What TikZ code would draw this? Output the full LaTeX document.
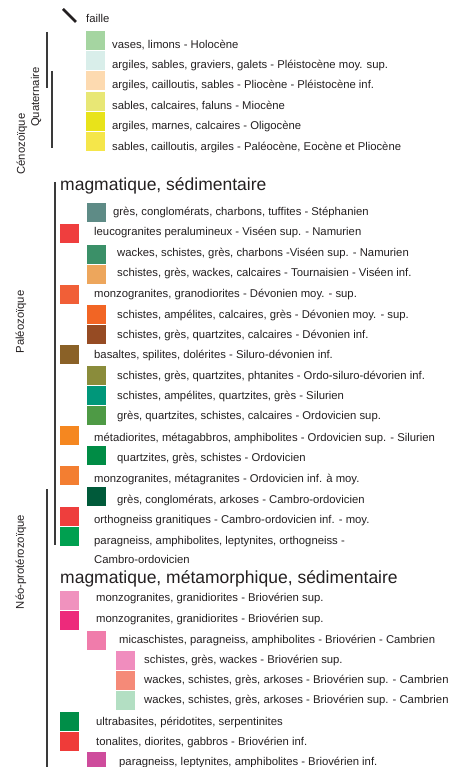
\documentclass[tikz,border=0pt]{standalone}
\usepackage{fontspec}
\setmainfont{Liberation Sans}
\definecolor{txt}{HTML}{231F20}
\definecolor{barc}{HTML}{3A3A3A}
\definecolor{cA}{HTML}{A5D5A1}
\definecolor{cB}{HTML}{D9EEEA}
\definecolor{cC}{HTML}{FDDAB0}
\definecolor{cD}{HTML}{E8E775}
\definecolor{cE}{HTML}{E8E31A}
\definecolor{cF}{HTML}{F5E64A}
\definecolor{pA}{HTML}{5E8B86}
\definecolor{pB}{HTML}{EF3E3E}
\definecolor{pC}{HTML}{3B9068}
\definecolor{pD}{HTML}{EDA65C}
\definecolor{pE}{HTML}{F15F37}
\definecolor{pF}{HTML}{F26524}
\definecolor{pG}{HTML}{964B23}
\definecolor{pH}{HTML}{8A6127}
\definecolor{pI}{HTML}{8A8C3B}
\definecolor{pJ}{HTML}{00977A}
\definecolor{pK}{HTML}{4E9A45}
\definecolor{pL}{HTML}{F58720}
\definecolor{pM}{HTML}{008C45}
\definecolor{pN}{HTML}{F37E31}
\definecolor{pO}{HTML}{005A3A}
\definecolor{pP}{HTML}{EE3E3D}
\definecolor{pQ}{HTML}{00A050}
\definecolor{nA}{HTML}{F092BE}
\definecolor{nB}{HTML}{ED2A7B}
\definecolor{nC}{HTML}{F07CAB}
\definecolor{nD}{HTML}{F08DBE}
\definecolor{nE}{HTML}{F58A78}
\definecolor{nF}{HTML}{B3DFC3}
\definecolor{nG}{HTML}{008E48}
\definecolor{nH}{HTML}{EF3B39}
\definecolor{nI}{HTML}{CE4C9C}
\begin{document}
\begin{tikzpicture}[x=1pt,y=-1pt,
  sw/.style={minimum width=19pt, minimum height=19pt, inner sep=0pt, outer sep=0pt, anchor=north west, draw=none},
  lb/.style={anchor=base west, inner sep=0pt, font=\fontsize{11.3}{13}\selectfont, text=txt},
  hd/.style={anchor=base west, inner sep=0pt, font=\fontsize{17.5}{20}\selectfont, text=txt},
  era/.style={rotate=90, inner sep=0pt, font=\fontsize{11.3}{13}\selectfont, text=txt},
  bar/.style={line width=1.3pt, draw=barc}]
\useasboundingbox (0,0) rectangle (449,767);

% faille
\coordinate (f1) at (63,9);
\coordinate (f2) at (76,22);
\draw[line width=2.6pt, draw=txt] (f1) -- (f2);
\node[lb] (faille) at (86,22.5) {faille};

% era bars
\draw[bar] (47,32) -- (47,88);
\draw[bar] (52,71) -- (52,148);
\draw[bar] (55,182) -- (55,545);
\draw[bar] (47,489) -- (47,767);

\node[era] (quat) at (36,97) {Quaternaire};
\node[era] (ceno) at (22,144) {Cénozoïque};
\node[era] (paleo) at (21,322) {Paléozoïque};
\node[era] (neo) at (21,562) {Néo-protérozoïque};

% Cenozoic
\node[sw, fill=cA] (s1) at (86,31) {};  \node[lb] (t1) at (112,48.5) {vases, limons - Holocène};
\node[sw, fill=cB] (s2) at (86,51) {};  \node[lb] (t2) at (112,69) {argiles, sables, graviers, galets - Pléistocène moy. sup.};
\node[sw, fill=cC] (s3) at (86,71.5) {};  \node[lb] (t3) at (112,89) {argiles, cailloutis, sables - Pliocène - Pléistocène inf.};
\node[sw, fill=cD] (s4) at (86,92) {};  \node[lb] (t4) at (112,110) {sables, calcaires, faluns - Miocène};
\node[sw, fill=cE] (s5) at (86,112) {}; \node[lb] (t5) at (112,130) {argiles, marnes, calcaires - Oligocène};
\node[sw, fill=cF] (s6) at (86,132) {}; \node[lb] (t6) at (112,150.5) {sables, cailloutis, argiles - Paléocène, Eocène et Pliocène};

% Paleozoic
\node[hd] (h1) at (60,191) {magmatique, sédimentaire};
\node[sw, fill=pA] (p1) at (87,203) {}; \node[lb] (q1) at (113,215) {grès, conglomérats, charbons, tuffites - Stéphanien};
\node[sw, fill=pB] (p2) at (60,224) {}; \node[lb] (q2) at (94,235) {leucogranites peralumineux - Viséen sup. - Namurien};
\node[sw, fill=pC] (p3) at (87,245) {}; \node[lb] (q3) at (117,256) {wackes, schistes, grès, charbons -Viséen sup. - Namurien};
\node[sw, fill=pD] (p4) at (87,265) {}; \node[lb] (q4) at (117,276) {schistes, grès, wackes, calcaires - Tournaisien - Viséen inf.};
\node[sw, fill=pE] (p5) at (60,285) {}; \node[lb] (q5) at (94,297) {monzogranites, granodiorites - Dévonien moy. - sup.};
\node[sw, fill=pF] (p6) at (87,305) {}; \node[lb] (q6) at (117,318) {schistes, ampélites, calcaires, grès - Dévonien moy. - sup.};
\node[sw, fill=pG] (p7) at (87,325) {}; \node[lb] (q7) at (117,338) {schistes, grès, quartzites, calcaires - Dévonien inf.};
\node[sw, fill=pH] (p8) at (60,345) {}; \node[lb] (q8) at (94,358) {basaltes, spilites, dolérites - Siluro-dévonien inf.};
\node[sw, fill=pI] (p9) at (87,366) {}; \node[lb] (q9) at (117,379) {schistes, grès, quartzites, phtanites - Ordo-siluro-dévorien inf.};
\node[sw, fill=pJ] (p10) at (87,386) {}; \node[lb] (q10) at (117,399) {schistes, ampélites, quartzites, grès - Silurien};
\node[sw, fill=pK] (p11) at (87,406) {}; \node[lb] (q11) at (117,419) {grès, quartzites, schistes, calcaires - Ordovicien sup.};
\node[sw, fill=pL] (p12) at (60,426) {}; \node[lb] (q12) at (94,441) {métadiorites, métagabbros, amphibolites - Ordovicien sup. - Silurien};
\node[sw, fill=pM] (p13) at (87,446) {}; \node[lb] (q13) at (117,461) {quartzites, grès, schistes - Ordovicien};
\node[sw, fill=pN] (p14) at (60,466) {}; \node[lb] (q14) at (94,482) {monzogranites, métagranites - Ordovicien inf. à moy.};
\node[sw, fill=pO] (p15) at (87,487) {}; \node[lb] (q15) at (117,503) {grès, conglomérats, arkoses - Cambro-ordovicien};
\node[sw, fill=pP] (p16) at (60,507) {}; \node[lb] (q16) at (94,523) {orthogneiss granitiques - Cambro-ordovicien inf. - moy.};
\node[sw, fill=pQ] (p17) at (60,527) {}; \node[lb] (q17) at (94,544) {paragneiss, amphibolites, leptynites, orthogneiss -};
\node[lb] (q17b) at (94,563) {Cambro-ordovicien};

% Neoproterozoic
\node[hd] (h2) at (60,583) {magmatique, métamorphique, sédimentaire};
\node[sw, fill=nA] (n1) at (60,591) {}; \node[lb] (m1) at (96,601) {monzogranites, granidiorites - Briovérien sup.};
\node[sw, fill=nB] (n2) at (60,611) {}; \node[lb] (m2) at (96,622) {monzogranites, granidiorites - Briovérien sup.};
\node[sw, fill=nC] (n3) at (87,631) {}; \node[lb] (m3) at (119,643) {micaschistes, paragneiss, amphibolites - Briovérien - Cambrien};
\node[sw, fill=nD] (n4) at (116,651) {}; \node[lb] (m4) at (144,663) {schistes, grès, wackes - Briovérien sup.};
\node[sw, fill=nE] (n5) at (116,671) {}; \node[lb] (m5) at (144,683) {wackes, schistes, grès, arkoses - Briovérien sup. - Cambrien};
\node[sw, fill=nF] (n6) at (116,691) {}; \node[lb] (m6) at (144,703) {wackes, schistes, grès, arkoses - Briovérien sup. - Cambrien};
\node[sw, fill=nG] (n7) at (60,712) {}; \node[lb] (m7) at (96,725) {ultrabasites, péridotites, serpentinites};
\node[sw, fill=nH] (n8) at (60,732) {}; \node[lb] (m8) at (96,745) {tonalites, diorites, gabbros - Briovérien inf.};
\node[sw, fill=nI] (n9) at (87,752) {}; \node[lb] (m9) at (119,765) {paragneiss, leptynites, amphibolites - Briovérien inf.};
\end{tikzpicture}
\end{document}
